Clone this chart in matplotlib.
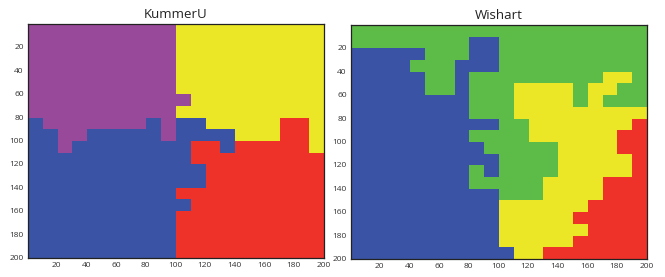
import numpy as np
import matplotlib
matplotlib.use('Agg')
import matplotlib.pyplot as plt
from matplotlib.colors import ListedColormap

# class map, 20 x 20 blocks of 10 px each (rows = y from top, cols = x from left)
# P = purple, Y = yellow, B = blue, R = red, G = green
kummer_rows = [
    'PPPPPPPPPPYYYYYYYYYY',
    'PPPPPPPPPPYYYYYYYYYY',
    'PPPPPPPPPPYYYYYYYYYY',
    'PPPPPPPPPPYYYYYYYYYY',
    'PPPPPPPPPPYYYYYYYYYY',
    'PPPPPPPPPPYYYYYYYYYY',
    'PPPPPPPPPPPYYYYYYYYY',
    'PPPPPPPPPPYYYYYYYYYY',
    'BPPPPPPPBPBBYYYYYRRY',
    'BBPPBBBBBPBBBBYYYRRY',
    'BBPBBBBBBBBRRBRRRRRY',
    'BBBBBBBBBBBRRRRRRRRR',
    'BBBBBBBBBBBBRRRRRRRR',
    'BBBBBBBBBBBBRRRRRRRR',
    'BBBBBBBBBBRRRRRRRRRR',
    'BBBBBBBBBBBRRRRRRRRR',
    'BBBBBBBBBBRRRRRRRRRR',
    'BBBBBBBBBBRRRRRRRRRR',
    'BBBBBBBBBBRRRRRRRRRR',
    'BBBBBBBBBBRRRRRRRRRR',
]

wishart_rows = [
    'GGGGGGGGGGGGGGGGGGGG',
    'GGGGGGGGBBGGGGGGGGGG',
    'BBBBBGGGBBGGGGGGGGGG',
    'BBBBGGGBBBGGGGGGGGGG',
    'BBBBBGGBGGGGGGGGGYYG',
    'BBBBBGGBGGGYYYYGYYGG',
    'BBBBBBBBGGGYYYYGYGGG',
    'BBBBBBBBGGGYYYYYYYYY',
    'BBBBBBBBBBGGYYYYYYYR',
    'BBBBBBBBGGGGYYYYYYRR',
    'BBBBBBBBBGGGGGYYYYRR',
    'BBBBBBBBBBGGGGYYYYYR',
    'BBBBBBBBGBGGGGYYYYYR',
    'BBBBBBBBGGGGGYYYYRRR',
    'BBBBBBBBBBGGGYYYYRRR',
    'BBBBBBBBBBYYYYYYRRRR',
    'BBBBBBBBBBYYYYYRRRRR',
    'BBBBBBBBBBYYYYYYRRRR',
    'BBBBBBBBBBYYYYYRRRRR',
    'BBBBBBBBBBBYYRRRRRRR',
]

titles = ['KummerU', 'Wishart']
tick_vals = [20, 40, 60, 80, 100, 120, 140, 160, 180, 200]

codes = ['P', 'Y', 'B', 'R', 'G']
colors = ['#98499A', '#ECE726', '#3A53A4', '#EE3129', '#5DBB47']
cmap = ListedColormap(colors)

BLOCK = 10


def to_image(rows):
    grid = np.array([[codes.index(c) for c in r] for r in rows])
    return np.kron(grid, np.ones((BLOCK, BLOCK), dtype=int))


plt.rcParams['font.family'] = ['Open Sans', 'DejaVu Sans']

fig = plt.figure(figsize=(6.65, 2.77), dpi=100)
W, H = 665, 277
boxes = [(28, 24, 324, 258), (351, 25, 647, 259)]  # pixel boxes l, t, r, b

for rows, title, (l, t, r, b) in zip([kummer_rows, wishart_rows], titles, boxes):
    ax = fig.add_axes([l / W, 1 - b / H, (r - l) / W, (b - t) / H])
    img = to_image(rows)
    n = img.shape[0]
    ax.imshow(img, cmap=cmap, vmin=-0.5, vmax=len(codes) - 0.5,
              interpolation='nearest', aspect='auto',
              extent=(0.5, n + 0.5, n + 0.5, 0.5))
    ax.set_xticks(tick_vals)
    ax.set_yticks(tick_vals)
    ax.tick_params(length=0, labelsize=6, colors='#333333', pad=3)
    for s in ax.spines.values():
        s.set_color('#222222')
        s.set_linewidth(0.9)
    ax.set_title(title, fontsize=9.5, pad=4, color='#222222')

fig.savefig('out.png', dpi=100)
